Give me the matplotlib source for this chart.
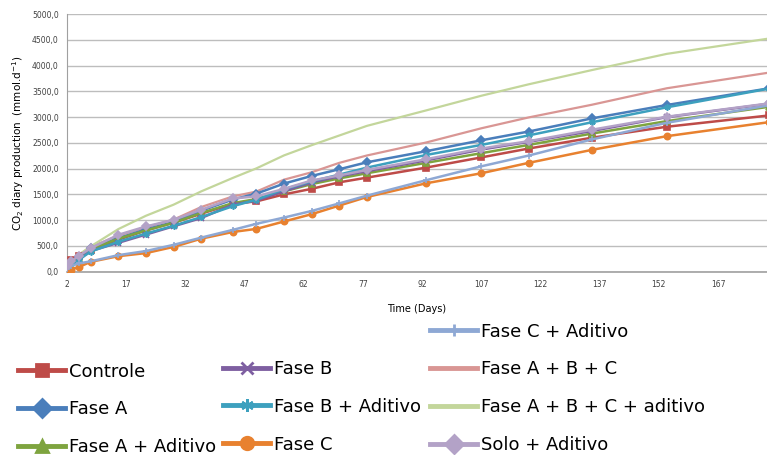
import matplotlib.pyplot as plt
from matplotlib.lines import Line2D

# dias de medicao
dias = [2, 3, 5, 8, 15, 22, 29, 36, 44, 50, 57, 64, 71, 78, 93, 107, 119, 135, 154, 180]

# producao de CO2 (mmol/d)
controle = [120, 220, 300, 420, 620, 800, 950, 1124, 1319, 1364, 1500, 1608, 1734, 1825, 2020, 2218, 2390, 2600, 2813, 3033]
fase_a = [80, 150, 280, 450, 650, 820, 960, 1182, 1400, 1515, 1710, 1858, 1988, 2123, 2338, 2550, 2720, 2975, 3235, 3560]
fase_a_ad = [60, 130, 270, 430, 640, 800, 950, 1137, 1330, 1410, 1558, 1700, 1810, 1910, 2112, 2300, 2460, 2680, 2922, 3202]
fase_b = [50, 110, 250, 400, 560, 720, 880, 1040, 1300, 1380, 1560, 1730, 1850, 1950, 2160, 2370, 2520, 2730, 3000, 3260]
fase_b_ad = [40, 100, 230, 390, 580, 740, 890, 1060, 1270, 1397, 1600, 1753, 1884, 2020, 2265, 2460, 2645, 2900, 3190, 3555]
fase_c = [0, 40, 90, 190, 300, 360, 480, 640, 770, 830, 974, 1115, 1283, 1449, 1715, 1910, 2112, 2364, 2630, 2903]
fase_c_ad = [60, 110, 160, 200, 320, 400, 520, 660, 810, 929, 1050, 1178, 1325, 1475, 1775, 2045, 2254, 2566, 2890, 3230]
fase_abc = [100, 200, 320, 480, 700, 860, 1010, 1254, 1460, 1555, 1786, 1929, 2112, 2255, 2507, 2783, 2994, 3240, 3560, 3865]
fase_abc_ad = [100, 200, 330, 490, 826, 1085, 1300, 1558, 1819, 2005, 2257, 2455, 2643, 2830, 3130, 3415, 3637, 3913, 4228, 4527]
solo_ad = [100, 200, 306, 455, 715, 877, 1007, 1202, 1420, 1461, 1608, 1770, 1868, 1975, 2183, 2390, 2533, 2755, 3007, 3267]

x_ticks = [2, 17, 32, 47, 62, 77, 92, 107, 122, 137, 152, 167]
y_ticks = [0, 500, 1000, 1500, 2000, 2500, 3000, 3500, 4000, 4500, 5000]

# nome, dados, cor, marcador
series = [
    ("Controle", controle, "#BE4B48", "s"),
    ("Fase A", fase_a, "#4A7EBB", "D"),
    ("Fase A + Aditivo", fase_a_ad, "#7EA43F", "^"),
    ("Fase B", fase_b, "#7E5FA1", "x"),
    ("Fase B + Aditivo", fase_b_ad, "#3DA0BE", (6, 2, 0)),
    ("Fase C", fase_c, "#E8812F", "o"),
    ("Fase C + Aditivo", fase_c_ad, "#8EA8D4", "+"),
    ("Fase A + B + C", fase_abc, "#D99694", None),
    ("Fase A + B + C + aditivo", fase_abc_ad, "#C3D69B", None),
    ("Solo + Aditivo", solo_ad, "#B3A2C7", "D"),
]

fig = plt.figure(figsize=(7.67, 4.55), dpi=100)
ax = fig.add_axes([0.0874, 0.403, 0.9126, 0.566])

handles = {}
for nome, y, cor, mk in series:
    if mk is None:
        ax.plot(dias, y, color=cor, lw=1.6, zorder=2)
    else:
        ax.plot(dias, y, color=cor, lw=1.8, marker=mk, markersize=4.5,
                markeredgewidth=1.2, markeredgecolor=cor, zorder=3)
    handles[nome] = Line2D([0], [0], color=cor, lw=3.5, marker=mk,
                           markersize=9, markeredgewidth=2, markeredgecolor=cor)

ax.set_xlim(2, 179.4)
ax.set_ylim(0, 5000)
ax.set_xticks(x_ticks)
ax.set_yticks(y_ticks)
ax.set_yticklabels([f"{v:.1f}".replace(".", ",") for v in y_ticks])
ax.tick_params(length=0, labelsize=5.5, labelcolor="#404040", pad=6)
ax.grid(axis="y", color="#BDBDBD", lw=1.0)
ax.set_axisbelow(True)
for s in ["top", "right"]:
    ax.spines[s].set_visible(False)
ax.spines["left"].set_color("#A0A0A0")
ax.spines["bottom"].set_color("#A0A0A0")
ax.spines["bottom"].set_linewidth(1.2)

ax.set_ylabel("CO$_2$ diary production  (mmol.d$^{-1}$)", fontsize=7.5, labelpad=4)
ax.set_xlabel("Time (Days)", fontsize=7, labelpad=11)

# legenda em tres colunas, como no original
fam = ["Liberation Sans Narrow", "DejaVu Sans"]
colunas = [
    (["Controle", "Fase A", "Fase A + Aditivo"], 0.024, 0.203),
    (["Fase B", "Fase B + Aditivo", "Fase C"], 0.291, 0.209),
    (["Fase C + Aditivo", "Fase A + B + C", "Fase A + B + C + aditivo", "Solo + Aditivo"], 0.561, 0.291),
]
for nomes, x0, y0 in colunas:
    leg = fig.legend([handles[n] for n in nomes], nomes, loc="upper left",
                     bbox_to_anchor=(x0, y0), frameon=False,
                     prop={"family": fam, "size": 13}, handlelength=2.6,
                     handletextpad=0.2, labelspacing=1.1, borderpad=0,
                     borderaxespad=0)

fig.savefig("out.png", dpi=100)
